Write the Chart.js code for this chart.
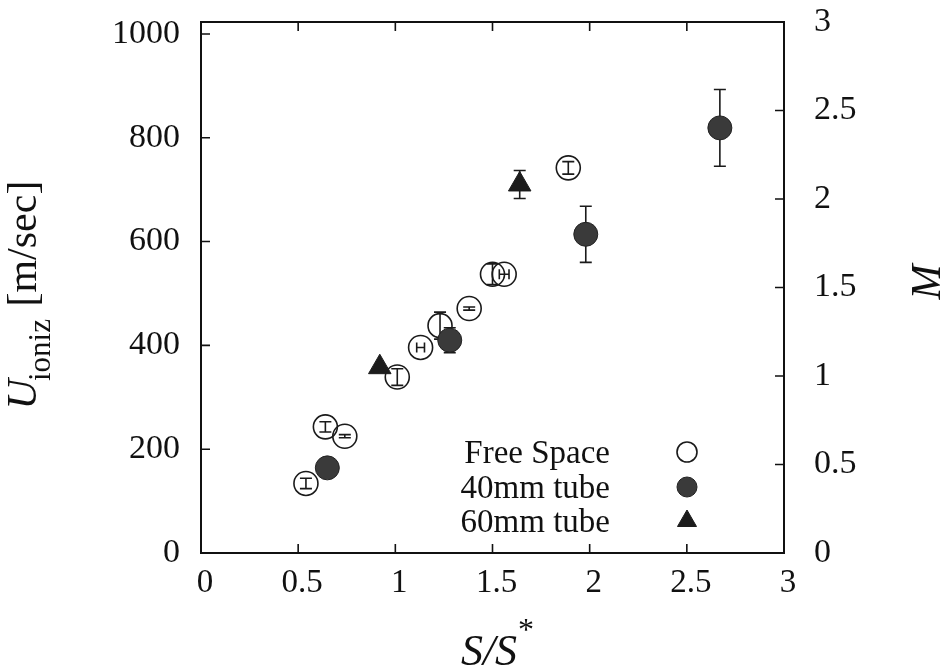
<!DOCTYPE html>
<html>
<head>
<meta charset="utf-8">
<script src="https://cdn.jsdelivr.net/npm/chart.js@4.4.0/dist/chart.umd.min.js"></script>
<style>
html, body { margin: 0; padding: 0; background: #fff; }
</style>
</head>
<body>
<canvas id="vitesse" width="947" height="668"></canvas>
<script>
// ..................les données........................
// Free Space (cercles vides)
const freeX    = [0.54, 0.64, 0.74, 1.01, 1.13, 1.23, 1.38, 1.50, 1.56, 1.89];
const freeY    = [134, 243, 225, 339, 396, 438, 471, 537, 537, 742];
const freeErrY = [10, 10, 3, 16, 0, 26, 3, 20, 0, 12];
const freeErrX = [0, 0, 0, 0, 0.02, 0, 0, 0, 0.025, 0];

// 40mm tube (cercles pleins)
const tube40X    = [0.65, 1.28, 1.98, 2.67];
const tube40Y    = [164, 410, 614, 819];
const tube40ErrY = [0, 24, 54, 74];

// 60mm tube (triangles)
const tube60X    = [0.92, 1.64];
const tube60Y    = [358, 710];
const tube60ErrY = [0, 27];

const xTicks = [0, 0.5, 1, 1.5, 2, 2.5, 3];
const yTicks = [0, 200, 400, 600, 800, 1000];
const mTicks = [0, 0.5, 1, 1.5, 2, 2.5, 3];

const serif = '"Liberation Serif", "Times New Roman", serif';

function points(xs, ys) {
    return xs.map((x, i) => ({ x: x, y: ys[i] }));
}

// pas de marge automatique autour des axes
function sansMarge(s) {
    s.paddingTop = 0; s.paddingBottom = 0;
    s.paddingLeft = 0; s.paddingRight = 0;
}

// ..................barres d'erreur........................
const barres = {
    id: 'barres',
    beforeDatasetsDraw(chart) {
        const ctx = chart.ctx;
        const sx = chart.scales.x, sy = chart.scales.y;
        ctx.save();
        ctx.strokeStyle = '#1a1a1a';
        ctx.lineWidth = 1.6;
        chart.data.datasets.forEach(ds => {
            ds.data.forEach((p, i) => {
                const px = sx.getPixelForValue(p.x);
                const ey = ds.errY ? ds.errY[i] : 0;
                const ex = ds.errX ? ds.errX[i] : 0;
                if (ey > 0) {
                    const y1 = sy.getPixelForValue(p.y - ey), y2 = sy.getPixelForValue(p.y + ey);
                    ctx.beginPath();
                    ctx.moveTo(px, y1); ctx.lineTo(px, y2);
                    ctx.moveTo(px - 6, y1); ctx.lineTo(px + 6, y1);
                    ctx.moveTo(px - 6, y2); ctx.lineTo(px + 6, y2);
                    ctx.stroke();
                }
                if (ex > 0) {
                    const py = sy.getPixelForValue(p.y);
                    const x1 = sx.getPixelForValue(p.x - ex), x2 = sx.getPixelForValue(p.x + ex);
                    ctx.beginPath();
                    ctx.moveTo(x1, py); ctx.lineTo(x2, py);
                    ctx.moveTo(x1, py - 5); ctx.lineTo(x1, py + 5);
                    ctx.moveTo(x2, py - 5); ctx.lineTo(x2, py + 5);
                    ctx.stroke();
                }
            });
        });
        ctx.restore();
    }
};

// ..................cadre, ticks, titres et légende........................
const cadre = {
    id: 'cadre',
    afterDraw(chart) {
        const ctx = chart.ctx;
        const a = chart.chartArea;
        const sx = chart.scales.x, sy = chart.scales.y, sm = chart.scales.y2;
        ctx.save();
        ctx.strokeStyle = '#111';
        ctx.lineWidth = 2;
        ctx.strokeRect(a.left, a.top, a.right - a.left, a.bottom - a.top);

        // petits ticks vers l'intérieur
        ctx.lineWidth = 1.6;
        ctx.beginPath();
        sx.ticks.forEach(t => {
            if (t.value <= 0 || t.value >= 3) return;
            const px = sx.getPixelForValue(t.value);
            ctx.moveTo(px, a.bottom); ctx.lineTo(px, a.bottom - 9);
            ctx.moveTo(px, a.top); ctx.lineTo(px, a.top + 9);
        });
        sy.ticks.forEach(t => {
            if (t.value <= 0) return;
            const py = sy.getPixelForValue(t.value);
            ctx.moveTo(a.left, py); ctx.lineTo(a.left + 9, py);
        });
        sm.ticks.forEach(t => {
            if (t.value <= 0 || t.value >= 3) return;
            const py = sm.getPixelForValue(t.value);
            ctx.moveTo(a.right, py); ctx.lineTo(a.right - 9, py);
        });
        ctx.stroke();

        ctx.fillStyle = '#111';
        ctx.textBaseline = 'alphabetic';

        // titre axe gauche : U_ioniz [m/sec]
        ctx.save();
        ctx.translate(36, 295);
        ctx.rotate(-Math.PI / 2);
        const fU = 'italic 42px ' + serif, fSub = '31px ' + serif, fN = '42px ' + serif;
        ctx.font = fU; const wU = ctx.measureText('U').width;
        ctx.font = fSub; const wS = ctx.measureText('ioniz').width;
        ctx.font = fN; const wB = ctx.measureText(' [m/sec]').width;
        let x0 = -(wU + wS + wB) / 2;
        ctx.textAlign = 'left';
        ctx.font = fU; ctx.fillText('U', x0, 0);
        ctx.font = fSub; ctx.fillText('ioniz', x0 + wU - 2, 14);
        ctx.font = fN; ctx.fillText(' [m/sec]', x0 + wU + wS, 0);
        ctx.restore();

        // titre axe droit : M
        ctx.save();
        ctx.translate(940, 282);
        ctx.rotate(-Math.PI / 2);
        ctx.font = 'italic 42px ' + serif;
        ctx.textAlign = 'center';
        ctx.fillText('M', 0, 0);
        ctx.restore();

        // titre axe x : S/S*
        const fI = 'italic 44px ' + serif, fStar = '32px ' + serif;
        ctx.font = fI; const wSS = ctx.measureText('S/S').width;
        ctx.font = fStar; const wStar = ctx.measureText('*').width;
        let xs = 497 - (wSS + wStar) / 2;
        ctx.textAlign = 'left';
        ctx.font = fI; ctx.fillText('S/S', xs, 665);
        ctx.font = fStar; ctx.fillText('*', xs + wSS + 1, 640);

        // légende
        const rows = [452, 487, 521];
        ctx.font = '33px ' + serif;
        chart.data.datasets.forEach((ds, i) => {
            ctx.textAlign = 'right';
            ctx.textBaseline = 'middle';
            ctx.fillStyle = '#111';
            ctx.fillText(ds.label, 610, rows[i] + 2);
            ctx.fillStyle = ds.backgroundColor;
            ctx.strokeStyle = ds.borderColor;
            ctx.lineWidth = ds.borderWidth;
            Chart.helpers.drawPoint(ctx, {
                pointStyle: ds.pointStyle, radius: ds.legendRadius, rotation: 0, borderWidth: ds.borderWidth
            }, 687, rows[i]);
        });
        ctx.restore();
    }
};

// ..................le graphique........................
const ctx = document.getElementById('vitesse').getContext('2d');
const chart = new Chart(ctx, {
    type: 'scatter',
    data: {
        datasets: [{
            label: 'Free Space',
            data: points(freeX, freeY),
            errY: freeErrY,
            errX: freeErrX,
            pointStyle: 'circle',
            pointRadius: 12,
            legendRadius: 10,
            backgroundColor: 'rgba(255, 255, 255, 0)',
            borderColor: '#1a1a1a',
            borderWidth: 1.6,
            order: 3
        }, {
            label: '40mm tube',
            data: points(tube40X, tube40Y),
            errY: tube40ErrY,
            pointStyle: 'circle',
            pointRadius: 12,
            legendRadius: 10,
            backgroundColor: '#3a3a3a',
            borderColor: '#222',
            borderWidth: 1,
            order: 1
        }, {
            label: '60mm tube',
            data: points(tube60X, tube60Y),
            errY: tube60ErrY,
            pointStyle: 'triangle',
            pointRadius: 13,
            legendRadius: 11,
            backgroundColor: '#1c1c1c',
            borderColor: '#1c1c1c',
            borderWidth: 1,
            order: 2
        }]
    },
    options: {
        responsive: false,
        animation: false,
        events: [],
        layout: { padding: { top: 22, left: 0, right: 0, bottom: 0 } },
        plugins: {
            legend: { display: false },
            tooltip: { enabled: false }
        },
        scales: {
            x: {
                type: 'linear',
                min: 0, max: 3,
                afterFit: s => { s.height = 115; sansMarge(s); },
                afterBuildTicks: s => { s.ticks = xTicks.map(v => ({ value: v })); },
                ticks: {
                    padding: 11,
                    labelOffset: 4,
                    color: '#111',
                    font: { family: serif, size: 33 },
                    callback: v => String(v)
                },
                grid: { display: false, drawTicks: false },
                border: { display: false }
            },
            y: {
                position: 'left',
                min: 0, max: 1023,
                afterFit: s => { s.width = 201; sansMarge(s); },
                afterBuildTicks: s => { s.ticks = yTicks.map(v => ({ value: v })); },
                ticks: {
                    padding: 21,
                    color: '#111',
                    font: { family: serif, size: 34 },
                    callback: v => String(v)
                },
                grid: { display: false, drawTicks: false },
                border: { display: false }
            },
            y2: {
                position: 'right',
                min: 0, max: 3,
                afterFit: s => { s.width = 163; sansMarge(s); },
                afterBuildTicks: s => { s.ticks = mTicks.map(v => ({ value: v })); },
                ticks: {
                    padding: 30,
                    color: '#111',
                    font: { family: serif, size: 34 },
                    callback: v => String(v)
                },
                grid: { display: false, drawTicks: false },
                border: { display: false }
            }
        }
    },
    plugins: [barres, cadre]
});
</script>
</body>
</html>
